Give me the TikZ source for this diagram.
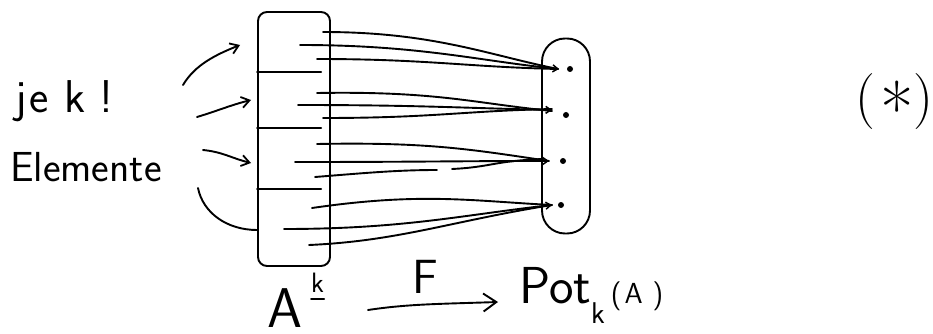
\documentclass[tikz,border=0pt]{standalone}
\usepackage{fontspec}
\usetikzlibrary{arrows.meta}
\begin{document}
\begin{tikzpicture}[x=1pt,y=-1pt,
  ink/.style={line width=1.9pt, black, line cap=round, line join=round},
  barb/.style={-{Straight Barb[length=8pt,width=11pt,line width=1.8pt]}},
  smallbarb/.style={-{Straight Barb[length=5pt,width=7pt,line width=1.5pt]}},
  pt/.style={circle, fill=black, inner sep=0pt, minimum size=6pt},
  hand/.style={font=\sffamily, inner sep=0pt}]
\useasboundingbox (0,0) rectangle (933,334);

% the set A^k, split into blocks of permuted tuples
\node[ink, draw, rounded corners=9pt, minimum width=72pt, minimum height=254pt] (boxA) at (294,139) {};
\foreach \yy in {72,128,189}
  \draw[ink] (boxA.west |- 0,\yy) -- ++(64,0);

% the set Pot_k(A) with its k-element subsets
\node[ink, draw, rounded corners=23pt, minimum width=48pt, minimum height=195pt] (oval) at (566,136) {};
\node[pt] (p1) at (570,69) {};
\node[pt] (p2) at (566,115) {};
\node[pt] (p3) at (563,161) {};
\node[pt] (p4) at (561,205) {};

% starting points of the tuples
\coordinate (s1a) at (323,32);  \coordinate (s1b) at (300,45);  \coordinate (s1c) at (317,59);
\coordinate (s2a) at (317,93);  \coordinate (s2b) at (298,105); \coordinate (s2c) at (323,118);
\coordinate (s3a) at (317,144); \coordinate (s3b) at (295,162); \coordinate (s3c) at (315,177);
\coordinate (s4a) at (312,208); \coordinate (s4b) at (284,229); \coordinate (s4c) at (309,245);
\coordinate (g3) at (437,170);  \coordinate (g3b) at (452,169);

% each tuple is sent to its underlying set
\draw[ink] (s1a) .. controls +(110,0) and +(-70,-14) .. ([xshift=-12pt]p1.center);
\draw[ink, smallbarb] (s1b) .. controls +(120,0) and +(-80,-8) .. ([xshift=-11pt]p1.center);
\draw[ink] (s1c) .. controls +(110,0) and +(-90,-2) .. ([xshift=-12pt]p1.center);

\draw[ink] (s2a) .. controls +(120,-2) and +(-80,-8) .. ([xshift=-14pt,yshift=4pt]p2.center);
\draw[ink, smallbarb] (s2b) .. controls +(120,0) and +(-90,-2) .. ([xshift=-14pt,yshift=5pt]p2.center);
\draw[ink] (s2c) .. controls +(110,0) and +(-90,2) .. ([xshift=-14pt,yshift=6pt]p2.center);

\draw[ink] (s3a) .. controls +(110,-2) and +(-80,-12) .. ([xshift=-14pt]p3.center);
\draw[ink, smallbarb] (s3b) .. controls +(120,0) and +(-90,0) .. ([xshift=-14pt]p3.center);
\draw[ink] (s3c) .. controls +(50,-4) and +(-40,0) .. (g3);
\draw[ink] (g3b) .. controls +(40,-2) and +(-50,2) .. ([xshift=-20pt,yshift=2pt]p3.center);

\draw[ink] (s4a) .. controls +(110,-16) and +(-80,-4) .. ([xshift=-9pt]p4.center);
\draw[ink, smallbarb] (s4b) .. controls +(120,0) and +(-90,10) .. ([xshift=-9pt]p4.center);
\draw[ink] (s4c) .. controls +(90,-4) and +(-100,16) .. ([xshift=-9pt]p4.center);

% arrows pointing at the blocks
\coordinate (a1s) at (183,85);  \coordinate (a1e) at (240,45);
\coordinate (a2s) at (197,117); \coordinate (a2e) at (251,100);
\coordinate (a3s) at (203,150); \coordinate (a3e) at (251,163);
\coordinate (a4s) at (198,188);
\draw[ink, barb] (a1s) .. controls +(12,-20) and +(-25,10) .. (a1e);
\draw[ink, barb] (a2s) .. controls +(20,-6) and +(-20,5) .. (a2e);
\draw[ink, barb] (a3s) .. controls +(20,2) and +(-20,-5) .. (a3e);
\draw[ink] (a4s) .. controls +(5,25) and +(-30,0) .. (boxA.west |- 0,230);

% labels
\node[hand, anchor=base west, font=\sffamily\fontsize{46}{48}\selectfont] (jek) at (15,113)
  {j\hspace{3pt}e\hspace{16pt}k\hspace{14pt}!};
\node[hand, anchor=base west, font=\sffamily\fontsize{42}{44}\selectfont] (elem) at (10,181) {Elemente};

\node[hand, anchor=base west, font=\sffamily\fontsize{56}{60}\selectfont] (Alab) at (267,327) {A};
\node[hand, anchor=base west, font=\sffamily\fontsize{28}{28}\selectfont] (klab) at (311,292) {k};
\draw[ink] ([yshift=-7pt]klab.base west) -- ([yshift=-7pt]klab.base east);

\coordinate (fs) at (368,310);
\coordinate (fe) at (498,302);
\draw[ink, -{Straight Barb[length=13pt,width=18pt,line width=1.9pt]}] (fs) .. controls +(40,-6) and +(-60,2) .. (fe)
  node[hand, midway, above=10pt, font=\sffamily\fontsize{48}{48}\selectfont] (Flab) {F};

\node[hand, anchor=base west] (potlab) at (519,303)
  {{\fontsize{52}{52}\selectfont Pot}{\fontsize{30}{30}\selectfont\raisebox{-20pt}{k}}{\fontsize{29}{29}\selectfont\hspace{6pt}(\hspace{3pt}A\hspace{10pt})}};

\node[hand, anchor=base east, font=\fontsize{56}{56}\selectfont] (star) at (934,116)
  {(\hspace{5pt}\raisebox{-20pt}{\scalebox{1.3}{*}}\hspace{0pt})};
\end{tikzpicture}
\end{document}
